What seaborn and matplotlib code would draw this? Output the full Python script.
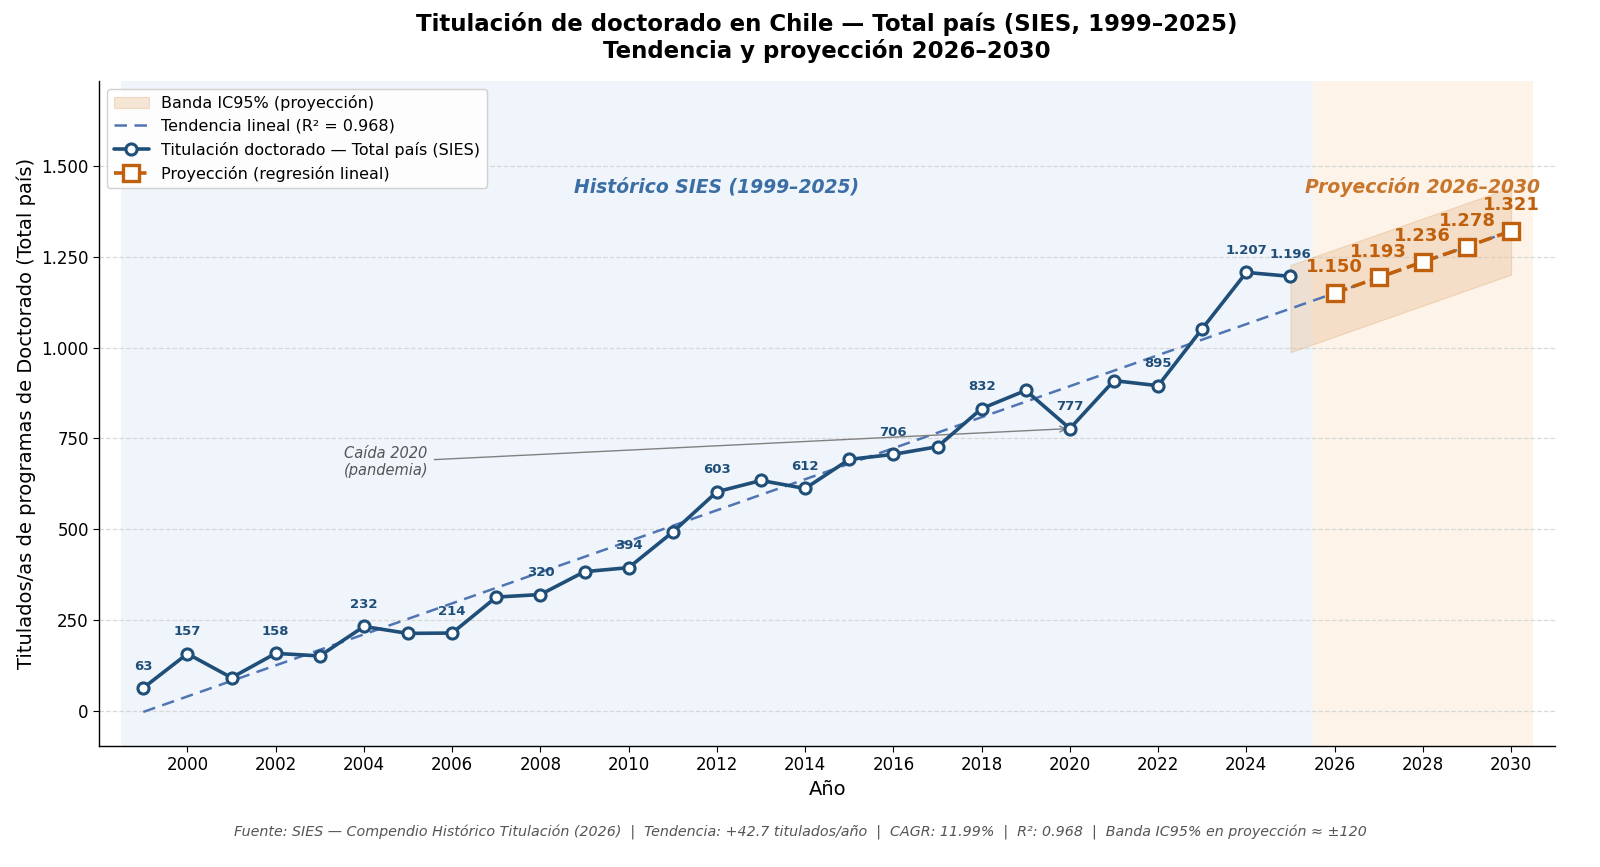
import numpy as np
import pandas as pd
import matplotlib
matplotlib.use("Agg")
import matplotlib.pyplot as plt
import seaborn as sns

# Datos históricos SIES (titulados de doctorado, total país)
anios = list(range(1999, 2026))
titulados = [63, 157, 91, 158, 151, 232, 213, 214, 313, 320, 383, 394, 492, 603,
             634, 612, 692, 706, 727, 832, 882, 777, 909, 895, 1052, 1207, 1196]

# Proyección por regresión lineal
anios_proy = [2026, 2027, 2028, 2029, 2030]
valores_proy = [1150, 1193, 1236, 1278, 1321]
margen_ic = 120

yticks = [0, 250, 500, 750, 1000, 1250, 1500]
xticks = list(range(2000, 2031, 2))


def fmt_miles(v):
    return f"{int(round(v)):,}".replace(",", ".")


def main():
    sns.set_style("white")
    plt.rcParams["font.family"] = ["DejaVu Sans"]
    plt.rcParams["text.color"] = "black"
    plt.rcParams["axes.labelcolor"] = "black"
    plt.rcParams["xtick.color"] = "black"
    plt.rcParams["ytick.color"] = "black"

    df = pd.DataFrame({"Año": anios, "Titulados": titulados})
    df_proy = pd.DataFrame({"Año": anios_proy, "Proy": valores_proy})

    azul = "#1f4e79"
    azul_tend = "#5075b3"
    naranjo = "#c0600c"

    fig, ax = plt.subplots(figsize=(16, 8.67), dpi=100)

    # Zonas de fondo
    ax.axvspan(1998.5, 2025.5, color="#eaf2fa", alpha=0.7, zorder=0, lw=0)
    ax.axvspan(2025.5, 2030.5, color="#fcebd9", alpha=0.6, zorder=0, lw=0)

    # Tendencia lineal
    pend, inter = np.polyfit(df["Año"], df["Titulados"], 1)
    pred = pend * df["Año"] + inter
    r2 = 1 - ((df["Titulados"] - pred) ** 2).sum() / ((df["Titulados"] - df["Titulados"].mean()) ** 2).sum()
    x_tend = np.array(anios + anios_proy)
    y_tend = pend * x_tend + inter

    # Banda IC95% (proyección)
    x_banda = np.array([2025] + anios_proy)
    y_banda = pend * x_banda + inter
    ax.fill_between(x_banda, y_banda - margen_ic, y_banda + margen_ic,
                    color="#e8b98a", alpha=0.35, lw=0.8, edgecolor="#e0a870",
                    label="Banda IC95% (proyección)", zorder=1)

    ax.plot(x_tend, y_tend, ls="--", color=azul_tend, lw=1.8, dashes=(5, 3),
            label=f"Tendencia lineal (R² = {r2:.3f})", zorder=2)

    sns.lineplot(data=df, x="Año", y="Titulados", ax=ax, color=azul, lw=2.6,
                 marker="o", markersize=8, markerfacecolor="white",
                 markeredgecolor=azul, markeredgewidth=2.2,
                 label="Titulación doctorado — Total país (SIES)", zorder=4)

    sns.lineplot(data=df_proy, x="Año", y="Proy", ax=ax, color=naranjo, lw=2.6,
                 linestyle="--", marker="s", markersize=12, markerfacecolor="white",
                 markeredgecolor=naranjo, markeredgewidth=2.4,
                 label="Proyección (regresión lineal)", zorder=5)

    # Etiquetas de valores históricos
    for a, v in zip(anios, titulados):
        if a == anios[0] or a == anios[-1] or a % 2 == 0:
            ax.annotate(fmt_miles(v), (a, v), xytext=(0, 11), textcoords="offset points",
                        ha="center", va="bottom", fontsize=9.5, fontweight="bold",
                        color=azul, zorder=6)

    for a, v in zip(anios_proy, valores_proy):
        ax.annotate(fmt_miles(v), (a, v), xytext=(0, 12), textcoords="offset points",
                    ha="center", va="bottom", fontsize=13, fontweight="bold",
                    color=naranjo, zorder=6)

    ax.text(2012, 1442, "Histórico SIES (1999–2025)", ha="center", va="center",
            fontsize=13.5, fontstyle="italic", fontweight="bold", color="#3a6ea5")
    ax.text(2028, 1442, "Proyección 2026–2030", ha="center", va="center",
            fontsize=13.5, fontstyle="italic", fontweight="bold", color="#c0600c", alpha=0.85)

    ax.annotate("Caída 2020\n(pandemia)", xy=(2020, 777), xytext=(2004.5, 685),
                ha="center", va="center", fontsize=10.5, fontstyle="italic", color="#555555",
                arrowprops=dict(arrowstyle="->", color="gray", lw=1.0))

    ax.set_xlim(1998, 2031)
    ax.set_ylim(-96, 1735)
    ax.set_xticks(xticks)
    ax.set_yticks(yticks)
    ax.set_yticklabels([fmt_miles(t) for t in yticks])
    ax.tick_params(axis="both", labelsize=12, length=4, direction="out", left=True, bottom=True)
    ax.yaxis.grid(True, ls="--", color="#d8d8d8", lw=0.9)
    ax.set_axisbelow(True)

    ax.set_xlabel("Año", fontsize=14)
    ax.set_ylabel("Titulados/as de programas de Doctorado (Total país)", fontsize=14)
    ax.set_title("Titulación de doctorado en Chile — Total país (SIES, 1999–2025)\n"
                 "Tendencia y proyección 2026–2030",
                 fontsize=16.5, fontweight="bold", pad=16)

    for s in ["top", "right"]:
        ax.spines[s].set_visible(False)
    for s in ["left", "bottom"]:
        ax.spines[s].set_color("black")
        ax.spines[s].set_linewidth(1.0)

    ax.legend(loc="upper left", fontsize=11.5, frameon=True, framealpha=0.9,
              edgecolor="#cccccc", handlelength=2.2)

    fig.text(0.5, 0.035,
             "Fuente: SIES — Compendio Histórico Titulación (2026)  |  Tendencia: +42.7 titulados/año  |  "
             "CAGR: 11.99%  |  R²: 0.968  |  Banda IC95% en proyección ≈ ±120",
             ha="center", fontsize=10.3, fontstyle="italic", color="#555555")

    plt.subplots_adjust(left=0.062, right=0.972, top=0.907, bottom=0.14)
    plt.savefig("out.png", dpi=100)
    plt.close()


if __name__ == "__main__":
    main()
